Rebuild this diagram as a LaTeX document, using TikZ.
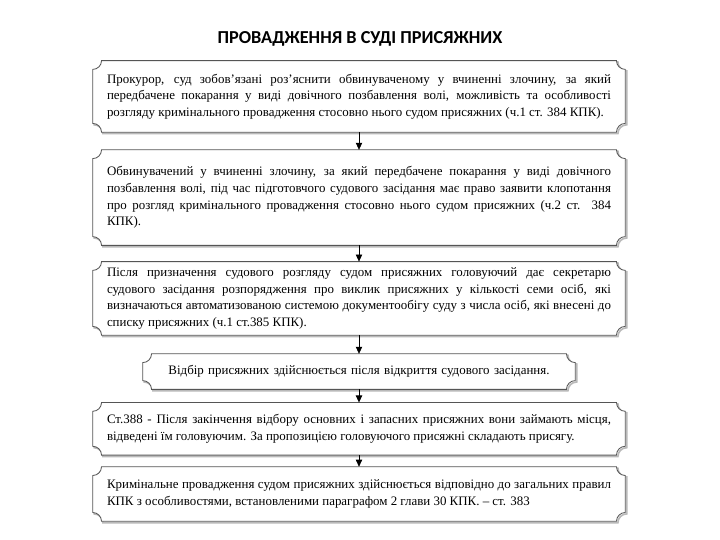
\documentclass[tikz,border=0pt]{standalone}
\usepackage{fontspec}
\setmainfont{Liberation Serif}
\newfontfamily\titlefont{Carlito}
\usetikzlibrary{calc,arrows.meta}
\definecolor{framegray}{RGB}{85,85,85}
\definecolor{shadowgray}{RGB}{185,185,185}

% frame with concave corners round a node
\newcommand{\rc}{0.22cm}
\newcommand{\plaque}[2]{%
  \draw[#2] ($(#1.north west)+(\rc,0)$) -- ($(#1.north east)+(-\rc,0)$)
    arc[start angle=180,end angle=270,radius=\rc] -- ($(#1.south east)+(0,\rc)$)
    arc[start angle=90,end angle=180,radius=\rc] -- ($(#1.south west)+(\rc,0)$)
    arc[start angle=0,end angle=90,radius=\rc] -- ($(#1.north west)+(0,-\rc)$)
    arc[start angle=270,end angle=360,radius=\rc] -- cycle;}

\tikzset{
  stepbox/.style={minimum width=13.3cm, inner sep=0pt},
  steptext/.style={text width=12.6cm, align=justify, inner sep=0pt,
    font=\fontsize{9.2}{11.8}\selectfont},
  frame/.style={draw=framegray, line width=0.6pt, fill=white},
  shade/.style={draw=shadowgray, line width=1.2pt,
    transform canvas={xshift=1pt,yshift=-1pt}},
  flow/.style={draw=black, line width=0.5pt, -{Triangle[length=5pt,width=4.5pt]}}
}

\begin{document}
\begin{tikzpicture}
  \useasboundingbox (0,0) rectangle (18,-13.5);

  \node[font=\titlefont\bfseries\fontsize{13}{15}\selectfont] (title) at (9,-0.98)
    {ПРОВАДЖЕННЯ В СУДІ ПРИСЯЖНИХ};

  \node[stepbox, minimum height=1.775cm] (b1) at (8.975,-2.41) {};
  \node[stepbox, minimum height=2.375cm] (b2) at (8.975,-4.94) {};
  \node[stepbox, minimum height=1.825cm] (b3) at (8.975,-7.46) {};
  \node[stepbox, minimum width=10.8cm, minimum height=0.875cm] (b4) at (8.975,-9.29) {};
  \node[stepbox, minimum height=1.3cm] (b5) at (8.975,-10.72) {};
  \node[stepbox, minimum height=1.35cm] (b6) at (8.975,-12.35) {};

  \foreach \b in {b1,b2,b3,b4,b5,b6} {
    \plaque{\b}{shade}
    \plaque{\b}{frame}
  }

  \node[steptext] (t1) at (b1)
    {Прокурор, суд зобов’язані роз’яснити обвинуваченому у вчиненні злочину, за який
     передбачене покарання у виді довічного позбавлення волі, можливість та особливості
     розгляду кримінального провадження стосовно нього судом присяжних (ч.1 ст. 384 КПК).};
  \node[steptext] (t2) at (b2)
    {Обвинувачений у вчиненні злочину, за який передбачене покарання у виді довічного
     позбавлення волі, під час підготовчого судового засідання має право заявити клопотання\linebreak
     про розгляд кримінального провадження стосовно нього судом присяжних (ч.2 ст. 384\linebreak
     КПК).};
  \node[steptext] (t3) at (b3)
    {Після призначення судового розгляду судом присяжних головуючий дає секретарю
     судового засідання розпорядження про виклик присяжних у кількості семи осіб, які
     визначаються автоматизованою системою документообігу суду з числа осіб, які внесені до\linebreak
     списку присяжних (ч.1 ст.385 КПК).};
  \node[steptext, text width=10.4cm, align=center] (t4) at (b4)
    {Відбір присяжних здійснюється після відкриття судового засідання.};
  \node[steptext] (t5) at (b5)
    {Ст.388 - Після закінчення відбору основних і запасних присяжних вони займають місця,
     відведені їм головуючим. За пропозицією головуючого присяжні складають присягу.};
  \node[steptext] (t6) at (b6)
    {Кримінальне провадження судом присяжних здійснюється відповідно до загальних правил
     КПК з особливостями, встановленими параграфом 2 глави 30 КПК. – ст. 383};

  \draw[flow] (b1) -- (b2);
  \draw[flow] (b2) -- (b3);
  \draw[flow] (b3) -- (b4);
  \draw[flow] (b4) -- (b5);
  \draw[flow] (b5) -- (b6);
\end{tikzpicture}
\end{document}
